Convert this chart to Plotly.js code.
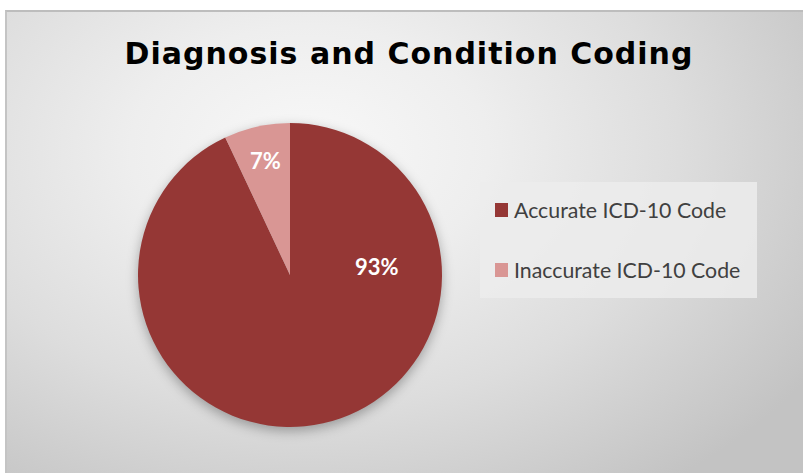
<!DOCTYPE html>
<html><head><meta charset="utf-8">
<script src="https://cdn.plot.ly/plotly-3.0.1.min.js"></script>
<style>
html,body{margin:0;padding:0;background:#fff;}
#wrap{position:relative;width:803px;height:473px;overflow:hidden;}
#bg{position:absolute;left:5px;top:10px;width:798px;height:463px;box-sizing:border-box;border-top:2px solid #bdbdbd;border-left:2px solid #c4c4c4;
 background:radial-gradient(ellipse 75% 90% at 38% 30%, #f8f8f8 0%, #eeeeee 30%, #dddddd 62%, #c3c3c3 100%);}
#chart{position:absolute;left:0;top:0;width:803px;height:473px;}
.pielayer{filter:drop-shadow(0px 4px 6px rgba(0,0,0,0.3));}
.gtitle{letter-spacing:1px;}
</style></head>
<body><div id="wrap"><div id="bg"></div><div id="chart"></div></div>
<script>
const chartTitle = 'Diagnosis and Condition Coding';
const categories = ['Accurate ICD-10 Code', 'Inaccurate ICD-10 Code'];
const values = [93, 7];
const colors = ['#953735', '#d99694'];

const W = 803, H = 473;
const px = x => x / W;
const py = y => 1 - y / H;
const total = values.reduce((a, b) => a + b, 0);
const pct = values.map(v => Math.round(v / total * 100) + '%');

// label positions (layout only)
const labelPos = [[377, 266], [265, 160]];
// legend layout
const legBox = {x0: 480, x1: 757, y0: 182, y1: 298};
const legRows = [210, 270];

const annotations = [];
const shapes = [{type: 'rect', xref: 'paper', yref: 'paper',
  x0: px(legBox.x0), x1: px(legBox.x1), y0: py(legBox.y1), y1: py(legBox.y0),
  fillcolor: 'rgba(236,236,236,0.85)', line: {width: 0}, layer: 'below'}];

pct.forEach((t, i) => annotations.push({
  text: '<b>' + t + '</b>', xref: 'paper', yref: 'paper', showarrow: false,
  x: px(labelPos[i][0]), y: py(labelPos[i][1]), xanchor: 'center', yanchor: 'middle',
  font: {family: 'Lato, sans-serif', size: 22, color: '#ffffff'}
}));

categories.forEach((c, i) => {
  const cy = legRows[i];
  shapes.push({type: 'rect', xref: 'paper', yref: 'paper',
    x0: px(495), x1: px(508), y0: py(cy + 7), y1: py(cy - 7),
    fillcolor: colors[i], line: {width: 0}});
  annotations.push({text: c, xref: 'paper', yref: 'paper', showarrow: false,
    x: px(512), y: py(cy), xanchor: 'left', yanchor: 'middle',
    font: {family: 'Lato, sans-serif', size: 21.3, color: '#404040'}});
});

const data = [{
  type: 'pie', labels: categories, values: values, sort: false,
  direction: 'clockwise', rotation: 0,
  marker: {colors: colors, line: {width: 0}},
  textinfo: 'none', hoverinfo: 'none', showlegend: false,
  domain: {x: [px(138), px(442)], y: [py(427), py(123)]}
}];

const layout = {
  width: W, height: H, margin: {l: 0, r: 0, t: 0, b: 0},
  paper_bgcolor: 'rgba(0,0,0,0)', plot_bgcolor: 'rgba(0,0,0,0)',
  showlegend: false,
  title: {text: '<b>' + chartTitle + '</b>', x: px(409), xanchor: 'center', xref: 'paper',
    y: py(53), yanchor: 'middle', yref: 'paper',
    font: {family: 'DejaVu Sans, sans-serif', size: 30, color: '#000000'}},
  annotations: annotations, shapes: shapes
};

Plotly.newPlot('chart', data, layout, {displayModeBar: false, staticPlot: true});
</script></body></html>
